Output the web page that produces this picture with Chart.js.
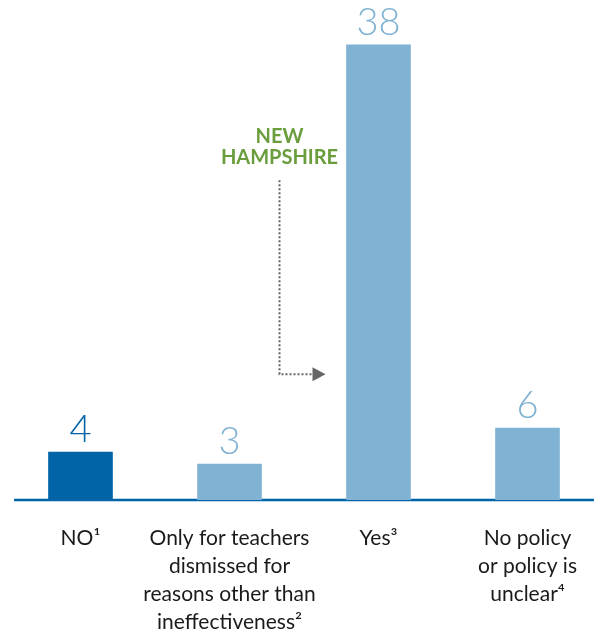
<!DOCTYPE html>
<html lang="en">
  <head>
    <meta charset="UTF-8" />
    <title>Teacher dismissal policy</title>
    <script src="https://cdn.jsdelivr.net/npm/chart.js"></script>
    <style>
      html,
      body {
        margin: 0;
        padding: 0;
        background: #ffffff;
        overflow: hidden;
      }
      #chartBox {
        position: absolute;
        left: 0;
        top: 0;
        width: 604px;
        height: 636px;
      }
    </style>
  </head>
  <body>
    <div id="chartBox">
      <canvas id="policyChart" width="604" height="636"></canvas>
    </div>

    <script>
      // data
      var categories = [
        ["NO\u00b9"],
        ["Only for teachers", "dismissed for", "reasons other than", "ineffectiveness\u00b2"],
        ["Yes\u00b3"],
        ["No policy", "or policy is", "unclear\u2074"],
      ];
      var stateCounts = [4, 3, 38, 6];
      var barColors = ["#0064a6", "#80b2d3", "#80b2d3", "#80b2d3"];

      var darkBlue = "#0064a6";
      var green = "#6a9e3c";
      var arrowGray = "#666666";

      // baseline under the bars
      var baselinePlugin = {
        id: "baseline",
        beforeDatasetsDraw: function (chart) {
          var ctx = chart.ctx;
          var area = chart.chartArea;
          ctx.save();
          ctx.strokeStyle = darkBlue;
          ctx.lineWidth = 2.5;
          ctx.beginPath();
          ctx.moveTo(area.left + 8, area.bottom);
          ctx.lineTo(area.right, area.bottom);
          ctx.stroke();
          ctx.restore();
        },
      };

      // numbers above the bars
      var valueLabelPlugin = {
        id: "valueLabels",
        afterDatasetsDraw: function (chart) {
          var ctx = chart.ctx;
          var bars = chart.getDatasetMeta(0).data;
          ctx.save();
          ctx.font = "300 38px Lato, 'Open Sans', sans-serif";
          ctx.textAlign = "center";
          ctx.textBaseline = "alphabetic";
          bars.forEach(function (bar, i) {
            ctx.fillStyle = barColors[i];
            ctx.fillText(String(stateCounts[i]), bar.x, bar.y - 10);
          });
          ctx.restore();
        },
      };

      // "NEW HAMPSHIRE" callout with dotted arrow pointing at the Yes bar
      var calloutPlugin = {
        id: "callout",
        afterDatasetsDraw: function (chart) {
          var ctx = chart.ctx;
          var yScale = chart.scales.y;
          var yesBar = chart.getDatasetMeta(0).data[2];
          var barLeft = yesBar.x - yesBar.width / 2;
          var lineX = barLeft - 67;
          var topY = yScale.getPixelForValue(26.7);
          var arrowY = yScale.getPixelForValue(10.5);
          var tipX = barLeft - 21;

          ctx.save();
          ctx.fillStyle = green;
          ctx.font = "bold 20px Lato, 'Open Sans', sans-serif";
          ctx.textAlign = "center";
          ctx.textBaseline = "alphabetic";
          ctx.fillText("NEW", lineX, yScale.getPixelForValue(29.8));
          ctx.fillText("HAMPSHIRE", lineX, yScale.getPixelForValue(28.05));

          ctx.strokeStyle = arrowGray;
          ctx.lineWidth = 2;
          ctx.setLineDash([2, 2]);
          ctx.beginPath();
          ctx.moveTo(lineX, topY);
          ctx.lineTo(lineX, arrowY);
          ctx.lineTo(tipX - 13, arrowY);
          ctx.stroke();
          ctx.setLineDash([]);

          ctx.fillStyle = arrowGray;
          ctx.beginPath();
          ctx.moveTo(tipX - 13, arrowY - 7);
          ctx.lineTo(tipX, arrowY);
          ctx.lineTo(tipX - 13, arrowY + 7);
          ctx.closePath();
          ctx.fill();
          ctx.restore();
        },
      };

      var ctx = document.getElementById("policyChart").getContext("2d");
      var policyChart = new Chart(ctx, {
        type: "bar",
        data: {
          labels: categories,
          datasets: [
            {
              data: stateCounts,
              backgroundColor: barColors,
              borderWidth: 0,
              barThickness: 64,
            },
          ],
        },
        options: {
          responsive: false,
          animation: false,
          layout: {
            padding: { left: 6, right: 2, top: 21, bottom: 0 },
          },
          plugins: {
            legend: { display: false },
            tooltip: { enabled: false },
          },
          scales: {
            x: {
              offset: true,
              grid: { display: false, drawTicks: false },
              border: { display: false },
              // label block is 4 lines of 28px; keep the axis exactly that tall
              // and stop the wide last label from squeezing the plot
              afterFit: function (scale) {
                scale.height = 136;
                scale.paddingLeft = 0;
                scale.paddingRight = 0;
              },
              ticks: {
                color: "#1a1a1a",
                padding: 24,
                maxRotation: 0,
                autoSkip: false,
                font: {
                  family: "Lato, 'Open Sans', sans-serif",
                  size: 21,
                  lineHeight: "28px",
                },
              },
            },
            y: {
              display: false,
              min: 0,
              max: 40,
            },
          },
        },
        plugins: [baselinePlugin, valueLabelPlugin, calloutPlugin],
      });
    </script>
  </body>
</html>
